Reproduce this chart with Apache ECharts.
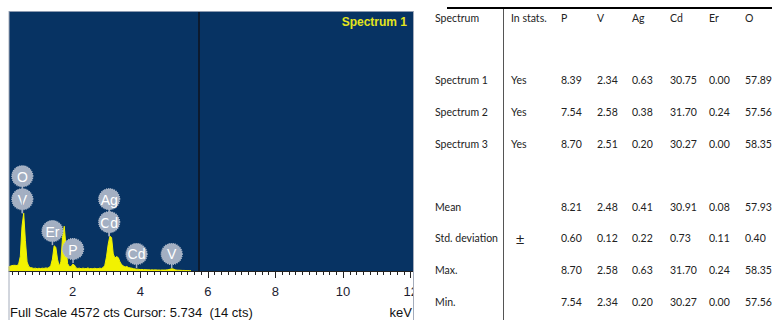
<!DOCTYPE html>
<html>
<head>
<meta charset="utf-8">
<script src="https://cdn.jsdelivr.net/npm/echarts@6/dist/echarts.min.js"></script>
<style>
  html, body { margin: 0; padding: 0; background: #ffffff; }
  #chart { width: 772px; height: 320px; }
</style>
</head>
<body>
<div id="chart"></div>
<script>
// ---- EDS spectrum (counts per 0.05 keV channel) ----
const channelStartKeV = 0.10;
const channelWidthKeV = 0.05;
const spectrumCounts = [
  70, 85, 95, 100, 100, 95, 120, 260, 790, 1020,
  540, 160, 80, 60, 55, 45, 50, 40, 48, 42,
  50, 45, 55, 50, 60, 95, 210, 445, 420, 210,
  85, 160, 610, 790, 440, 130, 80, 75, 120, 105,
  55, 45, 50, 40, 50, 45, 42, 55, 40, 45,
  38, 48, 42, 40, 50, 45, 60, 100, 250, 470,
  615, 590, 300, 230, 255, 235, 160, 110, 90, 70,
  80, 60, 55, 50, 40, 35, 32, 30, 25, 28,
  22, 25, 20, 22, 18, 20, 18, 20, 17, 18,
  15, 18, 16, 18, 20, 25, 35, 40, 30, 18,
  15, 14, 12, 10, 10, 8, 8, 6, 5
];
const fullScaleCounts = 4572;
const cursorKeV = 5.734;
const cursorCounts = 14;
const energyTickLabels = [2, 4, 6, 8, 10, 12];
const minorTickStepKeV = 0.2;

// ---- Element line markers ----
const markerElements = ['V', 'O', 'Er', 'P', 'Cd', 'Ag', 'Cd', 'V'];
const markerKeV      = [0.51, 0.51, 1.40, 2.01, 3.08, 3.08, 3.89, 4.93];
const markerCounts   = [1020, 1020, 457, 141, 615, 615, 53, 53];
const markerLevel    = [0, 1, 0, 0, 0, 1, 0, 0];

// ---- Quantification table (wt.%) ----
const tableHeader   = ['Spectrum', 'In stats.', 'P', 'V', 'Ag', 'Cd', 'Er', 'O'];
const spectrumNames = ['Spectrum 1', 'Spectrum 2', 'Spectrum 3'];
const inStats       = ['Yes', 'Yes', 'Yes'];
const wtP  = [8.39, 7.54, 8.70];
const wtV  = [2.34, 2.58, 2.51];
const wtAg = [0.63, 0.38, 0.20];
const wtCd = [30.75, 31.70, 30.27];
const wtEr = [0.00, 0.24, 0.00];
const wtO  = [57.89, 57.56, 58.35];
const statNames = ['Mean', 'Std. deviation', 'Max.', 'Min.'];
const statP  = [8.21, 0.60, 8.70, 7.54];
const statV  = [2.48, 0.12, 2.58, 2.34];
const statAg = [0.41, 0.22, 0.63, 0.20];
const statCd = [30.91, 0.73, 31.70, 30.27];
const statEr = [0.08, 0.11, 0.24, 0.00];
const statO  = [57.93, 0.40, 58.35, 57.56];

// ---- layout ----
const plot = { left: 9, top: 12, right: 413, bottom: 271 };
const keVMin = 0.115, keVMax = 12.07;

const spectrumData = spectrumCounts.map((c, i) => [channelStartKeV + i * channelWidthKeV, c]);
const minorTicks = [];
for (let e = minorTickStepKeV; e < keVMax; e += minorTickStepKeV) minorTicks.push(+e.toFixed(2));

const markerData = markerKeV.map((e, i) => [e, markerCounts[i], markerLevel[i]]);

const tableFont = '10.5px Lato';
const colX = [435, 511, 561, 597, 632, 670, 709, 745];
const headerY = 18;
const spectrumRowY = [80, 112, 144];
const statRowY = [207, 238, 270, 302];

const graphics = [];
function addText(text, x, y, font, fill, align) {
  graphics.push({
    type: 'text', x: x, y: y, z: 100,
    style: { text: text, font: font, fill: fill || '#222222', align: align || 'left', verticalAlign: 'middle' }
  });
}
// table rules
graphics.push({ type: 'line', z: 100, shape: { x1: 447, y1: 8, x2: 772, y2: 8 }, style: { stroke: '#000', lineWidth: 2 } });
graphics.push({ type: 'line', z: 100, shape: { x1: 503.5, y1: 9, x2: 503.5, y2: 320 }, style: { stroke: '#555', lineWidth: 1 } });
tableHeader.forEach((h, i) => addText(h, colX[i], headerY, tableFont));
const spectrumCols = [wtP, wtV, wtAg, wtCd, wtEr, wtO];
spectrumNames.forEach((name, r) => {
  addText(name, colX[0], spectrumRowY[r], tableFont);
  addText(inStats[r], colX[1], spectrumRowY[r], tableFont);
  spectrumCols.forEach((col, c) => addText(col[r].toFixed(2), colX[c + 2], spectrumRowY[r], tableFont));
});
const statCols = [statP, statV, statAg, statCd, statEr, statO];
statNames.forEach((name, r) => {
  addText(name, colX[0], statRowY[r], tableFont);
  statCols.forEach((col, c) => addText(col[r].toFixed(2), colX[c + 2], statRowY[r], tableFont));
});
addText('\u00B1', 520, statRowY[1], '15px "Liberation Sans"', '#222222', 'center');

// spectrum widget frame and captions
graphics.push({ type: 'line', z: 90, shape: { x1: plot.left, y1: plot.top - 1, x2: plot.left, y2: 320 }, style: { stroke: '#a4acbb', lineWidth: 1 } });
graphics.push({ type: 'rect', z: 90, shape: { x: plot.right + 0.5, y: 272, width: 14, height: 48 }, style: { fill: '#ffffff' } });
graphics.push({ type: 'line', z: 91, shape: { x1: plot.right + 0.5, y1: plot.top - 1, x2: plot.right + 0.5, y2: 320 }, style: { stroke: '#a4acbb', lineWidth: 1 } });
graphics.push({ type: 'line', z: 91, shape: { x1: plot.left, y1: plot.top - 0.5, x2: plot.right, y2: plot.top - 0.5 }, style: { stroke: '#8c9ab0', lineWidth: 1 } });
addText('Spectrum 1', 407, 22, 'bold 12px "Liberation Sans"', '#e4e41c', 'right');
addText('Full Scale ' + fullScaleCounts + ' cts Cursor: ' + cursorKeV.toFixed(3) + '  (' + cursorCounts + ' cts)', 10, 312, '13px "Liberation Sans"', '#111');
addText('keV', 412, 312, '13px "Liberation Sans"', '#111', 'right');

const chart = echarts.init(document.getElementById('chart'), null, { renderer: 'svg', width: 772, height: 320 });
chart.setOption({
  animation: false,
  backgroundColor: '#ffffff',
  grid: {
    left: plot.left, top: plot.top,
    width: plot.right - plot.left, height: plot.bottom - plot.top,
    show: true, backgroundColor: '#073363', borderWidth: 0
  },
  xAxis: [{
    type: 'value', min: keVMin, max: keVMax, position: 'bottom',
    axisLine: { show: true, onZero: false, lineStyle: { color: '#222', width: 1 } },
    axisTick: { show: true, length: 7, customValues: energyTickLabels, lineStyle: { color: '#222' } },
    axisLabel: { show: true, customValues: energyTickLabels, margin: 14, color: '#1c1c30', fontSize: 13, fontFamily: 'Liberation Sans', showMaxLabel: true },
    splitLine: { show: false }
  }, {
    type: 'value', min: keVMin, max: keVMax, position: 'bottom',
    axisLine: { show: false },
    axisTick: { show: true, length: 4, customValues: minorTicks, lineStyle: { color: '#222' } },
    axisLabel: { show: false },
    splitLine: { show: false }
  }],
  yAxis: { type: 'value', min: 0, max: fullScaleCounts, show: false, splitLine: { show: false } },
  graphic: graphics,
  series: [{
    type: 'line',
    data: spectrumData,
    showSymbol: false,
    symbol: 'none',
    lineStyle: { color: '#f2f200', width: 1 },
    areaStyle: { color: '#f2f200', opacity: 1 },
    z: 2,
    markLine: {
      silent: true, symbol: 'none', label: { show: false },
      lineStyle: { color: '#0c1a2e', width: 2, type: 'solid' },
      data: [{ xAxis: cursorKeV }]
    }
  }, {
    type: 'custom',
    data: markerData,
    z: 5,
    renderItem: function (params, api) {
      const e = api.value(0), c = api.value(1), level = api.value(2);
      const base = api.coord([e, c]);
      const cy = base[1] - 14 - level * 23;
      return {
        type: 'group',
        children: [
          { type: 'line', shape: { x1: base[0], y1: base[1], x2: base[0], y2: cy }, style: { stroke: '#a5b0c2', lineWidth: 1.5 } },
          { type: 'circle', shape: { cx: base[0], cy: cy, r: 10.5 }, style: { fill: '#a3afc2', stroke: '#b3bdcc', lineWidth: 1.2, lineDash: [1, 1] } },
          { type: 'text', style: { text: markerElements[params.dataIndex], x: base[0], y: cy + 0.5, align: 'center', verticalAlign: 'middle', fill: '#ffffff', font: '14px "Liberation Sans"' } }
        ]
      };
    }
  }]
});
</script>
</body>
</html>
